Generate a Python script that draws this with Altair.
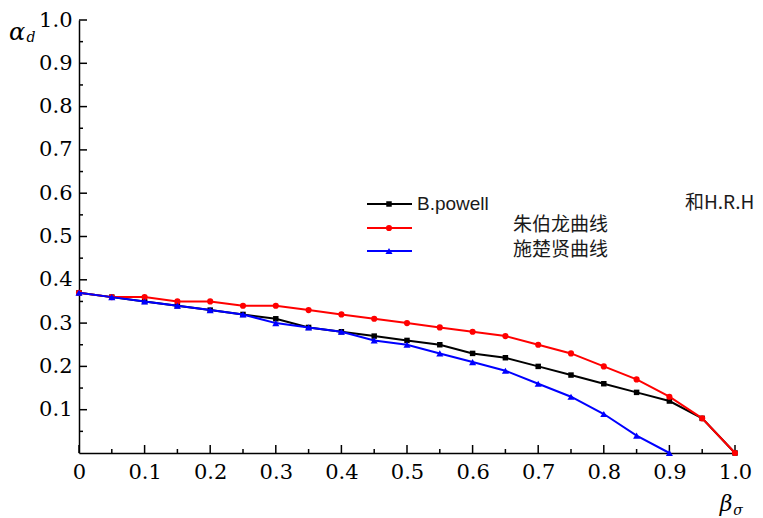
import altair as alt
import pandas as pd

# ---- data ----
beta = [0.0, 0.05, 0.10, 0.15, 0.20, 0.25, 0.30, 0.35, 0.40, 0.45, 0.50,
        0.55, 0.60, 0.65, 0.70, 0.75, 0.80, 0.85, 0.90, 0.95, 1.00]
powell = [0.37, 0.36, 0.35, 0.34, 0.33, 0.32, 0.31, 0.29, 0.28, 0.27, 0.26,
          0.25, 0.23, 0.22, 0.20, 0.18, 0.16, 0.14, 0.12, 0.08, 0.00]
zhu = [0.37, 0.36, 0.36, 0.35, 0.35, 0.34, 0.34, 0.33, 0.32, 0.31, 0.30,
       0.29, 0.28, 0.27, 0.25, 0.23, 0.20, 0.17, 0.13, 0.08, 0.00]
shi_beta = [0.0, 0.05, 0.10, 0.15, 0.20, 0.25, 0.30, 0.35, 0.40, 0.45, 0.50,
            0.55, 0.60, 0.65, 0.70, 0.75, 0.80, 0.85, 0.90]
shi = [0.37, 0.36, 0.35, 0.34, 0.33, 0.32, 0.30, 0.29, 0.28, 0.26, 0.25,
       0.23, 0.21, 0.19, 0.16, 0.13, 0.09, 0.04, 0.00]

major_ticks = [0.0, 0.1, 0.2, 0.3, 0.4, 0.5, 0.6, 0.7, 0.8, 0.9, 1.0]
minor_ticks = [0.05, 0.15, 0.25, 0.35, 0.45, 0.55, 0.65, 0.75, 0.85, 0.95]
y_major = [0.1, 0.2, 0.3, 0.4, 0.5, 0.6, 0.7, 0.8, 0.9, 1.0]

legend_labels = ["B.powell", "朱伯龙曲线", "施楚贤曲线", "和H.R.H"]

W, H = 656, 433
SERIF = "DejaVu Serif"
SANS = "Liberation Sans"
CJK = "Noto Sans CJK SC"

xs = alt.Scale(domain=[0, 1], nice=False, zero=False)
ys = alt.Scale(domain=[0, 1], nice=False, zero=False)

x_axis = alt.Axis(values=major_ticks, ticks=False, grid=False, domain=True,
                  domainColor="black", domainWidth=1.5, labelFont=SERIF,
                  labelFontSize=21, labelColor="black", labelPadding=8,
                  labelFlush=False, labelOverlap=False,
                  labelExpr="datum.value == 0 ? '0' : format(datum.value, '.1f')",
                  title=None)
y_axis = alt.Axis(values=y_major, ticks=False, grid=False, domain=True,
                  domainColor="black", domainWidth=1.5, labelFont=SERIF,
                  labelFontSize=21, labelColor="black", labelPadding=7,
                  labelFlush=False, labelOverlap=False,
                  format=".1f", title=None)


def X():
    return alt.X("x:Q", scale=xs, axis=x_axis)


def Y():
    return alt.Y("y:Q", scale=ys, axis=y_axis)


def series(xv, yv, color, shape, size):
    df = pd.DataFrame({"x": xv, "y": yv})
    base = alt.Chart(df).encode(x=X(), y=Y())
    line = base.mark_line(color=color, strokeWidth=2)
    pts = base.mark_point(color=color, fill=color, filled=True, shape=shape,
                          size=size, opacity=1)
    return line + pts


black = series(beta, powell, "black", "square", 30)
red = series(beta, zhu, "#ff0000", "circle", 38)
blue = series(shi_beta, shi, "#0000ff", "triangle-up", 50)

# inward ticks
xmaj = alt.Chart(pd.DataFrame({"x": major_ticks})).mark_rule(color="black", strokeWidth=1.5).encode(
    x=X(), y=alt.value(H), y2=alt.value(H - 8))
xmin = alt.Chart(pd.DataFrame({"x": minor_ticks})).mark_rule(color="black", strokeWidth=1.5).encode(
    x=X(), y=alt.value(H), y2=alt.value(H - 4))
ymaj = alt.Chart(pd.DataFrame({"y": y_major})).mark_rule(color="black", strokeWidth=1.5).encode(
    y=Y(), x=alt.value(0), x2=alt.value(8))
ymin = alt.Chart(pd.DataFrame({"y": minor_ticks})).mark_rule(color="black", strokeWidth=1.5).encode(
    y=Y(), x=alt.value(0), x2=alt.value(4))


# manual legend
def leg_entry(color, shape, ypix, size):
    d = pd.DataFrame({"k": [0]})
    r = alt.Chart(d).mark_rule(color=color, strokeWidth=2).encode(
        x=alt.value(288), x2=alt.value(333), y=alt.value(ypix))
    p = alt.Chart(d).mark_point(color=color, fill=color, filled=True, shape=shape,
                                size=size, opacity=1).encode(
        x=alt.value(310), y=alt.value(ypix))
    return r + p


def label(txt, xpix, ypix, font, size):
    return alt.Chart(pd.DataFrame({"t": [txt]})).mark_text(
        font=font, fontSize=size, align="left", baseline="middle", color="#1a1a1a").encode(
        x=alt.value(xpix), y=alt.value(ypix), text="t:N")


legend = (leg_entry("black", "square", 184, 30)
          + leg_entry("#ff0000", "circle", 208, 38)
          + leg_entry("#0000ff", "triangle-up", 231, 50)
          + label(legend_labels[0], 338, 184, SANS, 19)
          + label(legend_labels[1], 434, 205, CJK, 19)
          + label(legend_labels[2], 434, 230, CJK, 19)
          + label(legend_labels[3], 606, 183, CJK, 19))


def sym(txt, xpix, ypix, size):
    return alt.Chart(pd.DataFrame({"t": [txt]})).mark_text(
        font=SERIF, fontStyle="italic", fontSize=size, align="center",
        baseline="middle", color="black").encode(
        x=alt.value(xpix), y=alt.value(ypix), text="t:N")


titles = (sym("α", -62, 13, 24) + sym("d", -48, 18, 14)
          + sym("β", 647, 484, 22) + sym("σ", 659, 491, 14))

chart = alt.layer(xmaj, xmin, ymaj, ymin, black, red, blue, legend, titles).properties(
    width=W, height=H,
    autosize=alt.AutoSizeParams(type="none"),
    padding={"left": 71, "top": 12, "right": 20, "bottom": 67},
).configure_view(stroke=None)

chart.save("out.html", embed_options={"renderer": "svg", "actions": False})
